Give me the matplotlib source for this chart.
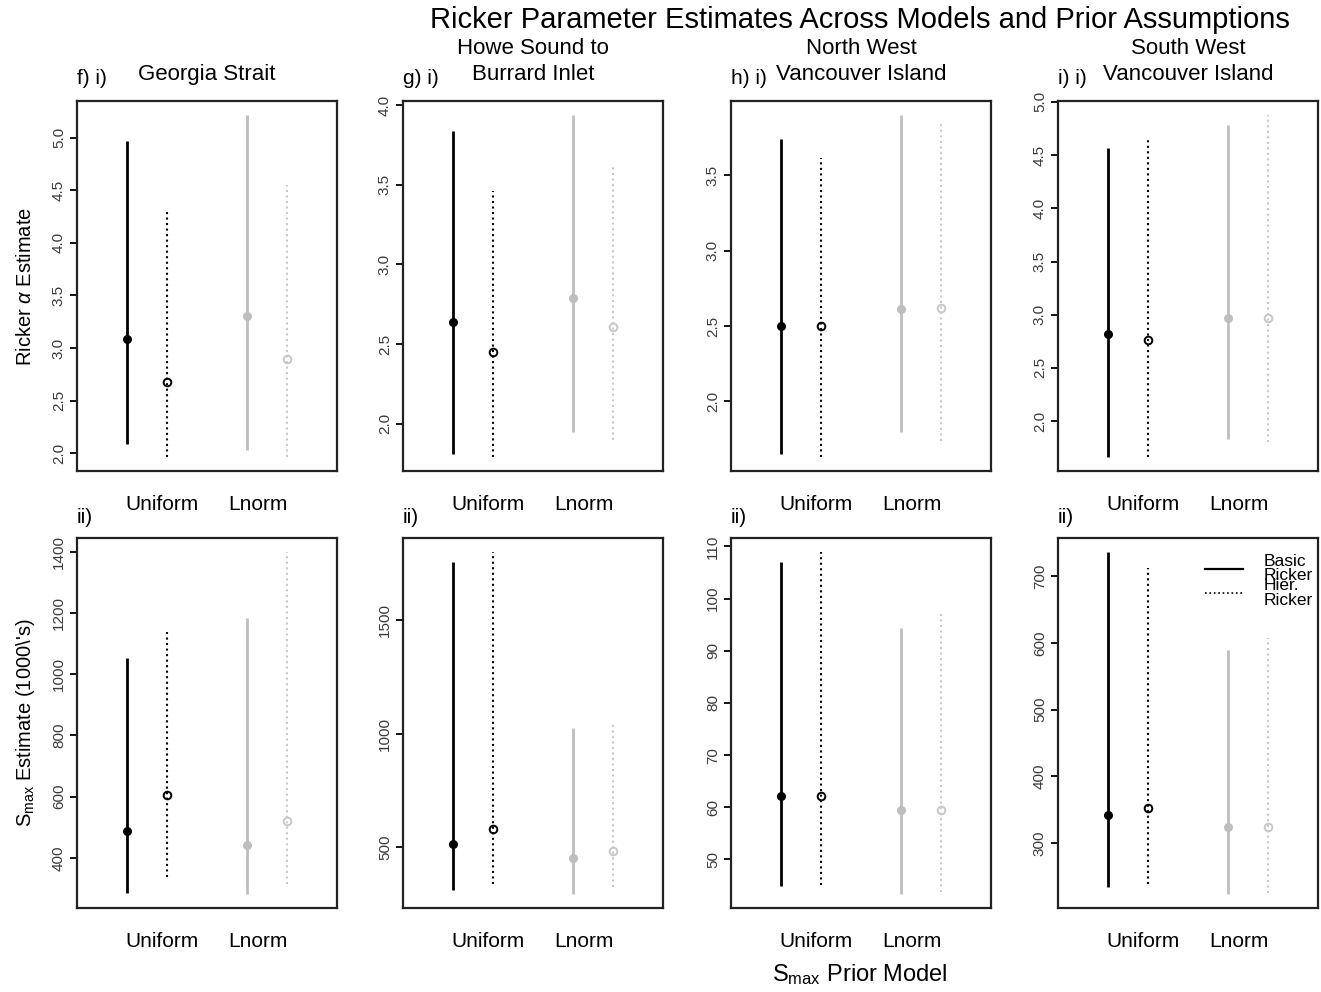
import matplotlib.pyplot as plt
from matplotlib.lines import Line2D
from matplotlib.ticker import MultipleLocator

# Fonts
plt.rcParams['font.family'] = ['Liberation Sans', 'DejaVu Sans']
plt.rcParams['mathtext.fontset'] = 'custom'
plt.rcParams['mathtext.rm'] = 'Liberation Sans'
plt.rcParams['mathtext.it'] = 'Liberation Sans:italic'

# Data
regions = ['Georgia Strait', 'Howe Sound to\nBurrard Inlet',
           'North West\nVancouver Island', 'South West\nVancouver Island']
tags = ['f) i)', 'g) i)', 'h) i)', 'i) i)']
priors = ['Uniform', 'Lnorm']
models = ['Basic\nRicker', 'Hier.\nRicker']

# order in each row: Basic/Uniform, Hier/Uniform, Basic/Lnorm, Hier/Lnorm
alpha_med = [[3.09, 2.68, 3.30, 2.90],
             [2.64, 2.45, 2.79, 2.61],
             [2.50, 2.50, 2.61, 2.62],
             [2.82, 2.76, 2.97, 2.97]]
alpha_lo = [[2.09, 1.96, 2.03, 1.96],
            [1.81, 1.79, 1.95, 1.90],
            [1.65, 1.63, 1.80, 1.74],
            [1.66, 1.66, 1.83, 1.80]]
alpha_hi = [[4.97, 4.32, 5.22, 4.55],
            [3.84, 3.46, 3.94, 3.61],
            [3.74, 3.61, 3.90, 3.84],
            [4.57, 4.65, 4.78, 4.88]]

smax_med = [[487, 604, 441, 521],
            [515, 581, 453, 482],
            [62.1, 62.1, 59.4, 59.4],
            [342, 352, 324, 324]]
smax_lo = [[286, 337, 281, 315],
           [310, 336, 292, 324],
           [44.9, 45.0, 43.3, 43.7],
           [234, 238, 223, 225]]
smax_hi = [[1054, 1148, 1184, 1400],
           [1756, 1803, 1024, 1049],
           [107.0, 109.0, 94.4, 97.7],
           [737, 713, 589, 607]]

alpha_step = [0.5, 0.5, 0.5, 0.5]
smax_step = [200, 500, 10, 100]

# Styles
xpos = [0, 1, 3, 4]
xlim = (-1.25, 5.25)
cols = ['black', 'black', '#bebebe', '#c8c8c8']
lstyles = ['-', ':', '-', ':']
lws = [2.0, 1.5, 2.0, 1.5]
filled = [True, False, True, False]
prior_frac = [0.327, 0.696]

W, H = 1321, 992
lefts = [77, 403, 731, 1058]
aw, ah = 260, 370


def draw_panel(ax, med, lo, hi, step):
    for j in range(4):
        ax.plot([xpos[j], xpos[j]], [lo[j], hi[j]], color=cols[j],
                ls=lstyles[j], lw=lws[j], solid_capstyle='butt')
        if filled[j]:
            ax.plot(xpos[j], med[j], 'o', color=cols[j], ms=6.5, mew=0)
        else:
            ax.plot(xpos[j], med[j], 'o', mfc='none', mec=cols[j], ms=5.5, mew=1.4)
    r = max(hi) - min(lo)
    ax.set_ylim(min(lo) - 0.04 * r, max(hi) + 0.04 * r)
    ax.set_xlim(*xlim)
    ax.yaxis.set_major_locator(MultipleLocator(step))
    xt = [xlim[0] + f * (xlim[1] - xlim[0]) for f in prior_frac]
    ax.set_xticks(xt)
    ax.set_xticklabels(priors, fontsize=15)
    ax.tick_params(axis='x', length=0, pad=17)
    ax.tick_params(axis='y', labelrotation=90, labelsize=11, length=5,
                   width=1.3, pad=3, labelcolor='#3a3a3a')
    for lab in ax.get_yticklabels():
        lab.set_va('center')
    for s in ax.spines.values():
        s.set_linewidth(1.6)
        s.set_color('#222222')


fig = plt.figure(figsize=(W / 100, H / 100), dpi=100)

for i in range(4):
    ax_t = fig.add_axes([lefts[i] / W, 1 - 471 / H, aw / W, ah / H])
    draw_panel(ax_t, alpha_med[i], alpha_lo[i], alpha_hi[i], alpha_step[i])
    ax_t.text(0.5, 1 + 21 / ah, regions[i], transform=ax_t.transAxes,
              ha='center', va='baseline', fontsize=16, linespacing=1.3)
    ax_t.text(0, 1 + 17 / ah, tags[i], transform=ax_t.transAxes,
              ha='left', va='baseline', fontsize=15)

    ax_b = fig.add_axes([lefts[i] / W, 1 - 908 / H, aw / W, ah / H])
    draw_panel(ax_b, smax_med[i], smax_lo[i], smax_hi[i], smax_step[i])
    ax_b.text(0, 1 + 15 / ah, 'ii)', transform=ax_b.transAxes,
              ha='left', va='baseline', fontsize=15)

    if i == 3:
        handles = [Line2D([], [], color='black', ls='-', lw=1.6),
                   Line2D([], [], color='black', ls=':', lw=1.2)]
        leg = ax_b.legend(handles, models, loc='upper right',
                          bbox_to_anchor=(1.02, 0.985), frameon=False,
                          fontsize=12.5, handlelength=2.2, handletextpad=1.2,
                          labelspacing=-0.3, borderaxespad=0.2)
        for t in leg.get_texts():
            t.set_linespacing(0.95)

fig.text(0.651, 1 - 20 / H, 'Ricker Parameter Estimates Across Models and Prior Assumptions',
         ha='center', va='center', fontsize=21)
fig.text(0.019, 1 - 286 / H, r'Ricker $\alpha$ Estimate', rotation=90,
         ha='center', va='center', fontsize=14.5)
fig.text(0.019, 1 - 723 / H, r'S$_{\mathrm{max}}$ Estimate (1000\'s)', rotation=90,
         ha='center', va='center', fontsize=14.5)
fig.text(0.651, 1 - 975 / H, r'S$_{\mathrm{max}}$ Prior Model',
         ha='center', va='center', fontsize=17)

fig.savefig('out.png', dpi=100)
